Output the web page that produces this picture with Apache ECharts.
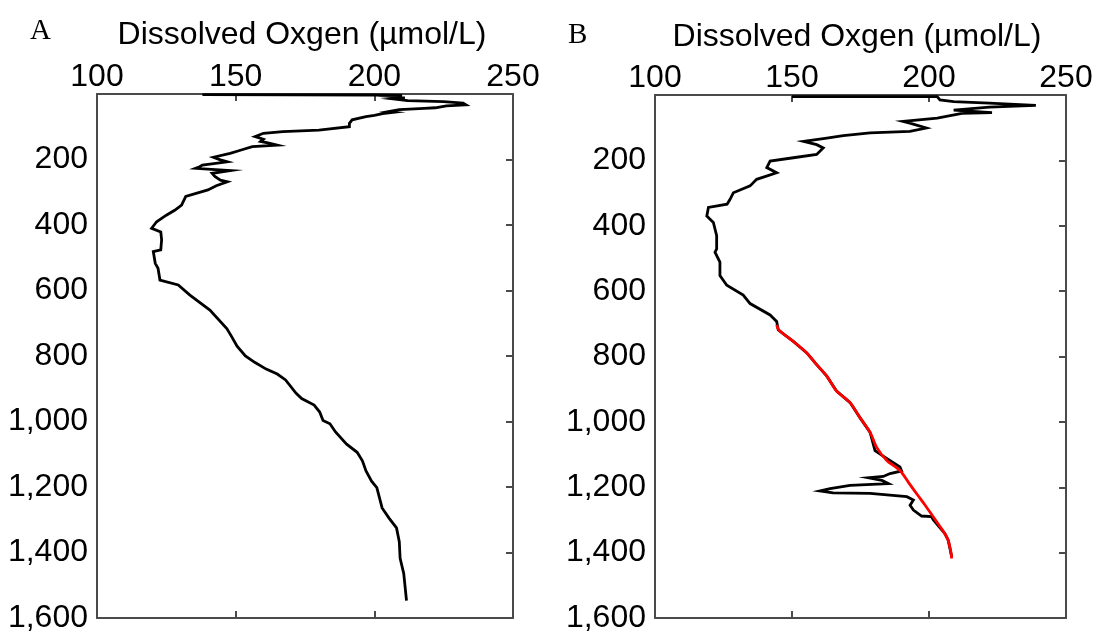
<!DOCTYPE html>
<html>
<head>
<meta charset="utf-8">
<script src="https://cdn.jsdelivr.net/npm/echarts@6/dist/echarts.min.js"></script>
<style>
  html, body { margin: 0; padding: 0; background: #fff; }
  #chart { width: 1096px; height: 634px; }
</style>
</head>
<body>
<div id="chart"></div>
<script>
// Dissolved oxygen profiles (µmol/L) against depth (m)
const xTicks = [100, 150, 200, 250];
const depthTicks = [0, 200, 400, 600, 800, 1000, 1200, 1400, 1600];

// Profile A
const depthA = [2,3,4,8,12,15,20,23,28,33,36,42,44,48,54,56,60,65,69,79,90,100,110,115,120,130,138,145,150,156,161,171,181,193,201,207,217,222,227,234,242,252,263,268,280,293,313,339,355,370,390,410,421,445,476,481,517,532,568,583,614,660,716,740,770,800,820,840,855,873,914,930,950,971,997,1007,1032,1069,1094,1120,1151,1182,1202,1264,1295,1325,1367,1418,1464,1547];
const oxyA = [138,200,210,206,211,207,212,225,232,233,226,222,218,209,205,207,203,200,197,192,191,191,180,167,160,157,160,159,162,165,156,152,148,142,144.5,147,138,137,135.5,148,141.5,142.5,144.5,147,143,140,132,130.5,128,125,121.5,119.7,123,123.3,123,120.3,121,122,122.7,129.3,133.5,140.7,146.8,148.5,150.5,153.5,157,161,165,168,171.8,173.8,178.3,180.3,181.5,184,186,190,193.8,195.7,197,199,200.9,202.8,205.3,208,209,209.3,210.6,211.6];

// Profile B
const depthB = [5,5,15,20,25,32,37,46,54,56,71,81,86,101,111,116,124,132,142,152,162,182,192,202,222,238,258,278,299,319,334,344,370,390,430,471,481,511,552,582,612,638,673,693,719,754,789,825,860,906,941,987,1032,1088,1103,1138,1150,1158,1167,1171,1179,1189,1194,1204,1211,1217,1219,1229,1239,1255,1270,1288,1290,1300,1342,1362,1413];
const oxyB = [150,203,204,209,222,239,222,209,223,212,203,190.6,193,199,193,178.5,168.7,162.7,154.2,159,161.4,159,150.5,142,140.8,144.4,137.1,134.7,128.6,127.4,126.3,119.5,118.9,121.3,122.5,122.5,121.9,123.7,123.7,126.2,132.2,134.7,142,144.4,145,150.5,155.4,159,162.7,166.3,171.2,174.8,178.5,180.3,183,189.4,190,185.8,183.3,177.9,182.8,185.2,171.2,163.9,160.2,165,178.5,191.9,194.3,193.1,194.3,197.3,200.9,201.6,205.8,207,208.3];

// Fitted curve for the lower part of profile B
const depthFit = [703,719,754,789,825,860,906,941,987,1032,1078,1118,1149,1185,1220,1255,1291,1320,1342,1362,1390,1418];
const oxyFit = [144.4,145.2,150.5,155.4,159,162.7,166.3,171.2,174.8,178.5,180.9,184.6,189.4,192.5,195.5,198.6,201.6,204,205.8,207,207.8,208.3];

const titleText = 'Dissolved Oxgen (µmol/L)';
const FONT = '"Liberation Sans", Arial, sans-serif';
const AXIS_COLOR = '#4a4a4a';

const pairs = (xs, ys) => xs.map((x, i) => [x, ys[i]]);
const thousands = v => String(v).replace(/\B(?=(\d{3})+(?!\d))/g, ',');

const grids = [
  { left: 97, top: 94, width: 416, height: 524 },
  { left: 655, top: 95, width: 411, height: 527 }
];

const xMin = xTicks[0], xMax = xTicks[xTicks.length - 1], xStep = xTicks[1] - xTicks[0];
const yMin = depthTicks[0], yMax = depthTicks[depthTicks.length - 1], yStep = depthTicks[1] - depthTicks[0];

const lineStyle = { color: AXIS_COLOR, width: 2 };

function xAxesFor(g) {
  return [
    {
      gridIndex: g, type: 'value', position: 'top', min: xMin, max: xMax, interval: xStep,
      axisLine: { show: true, onZero: false, lineStyle },
      axisTick: { show: true, inside: true, length: 7, lineStyle },
      axisLabel: { show: true, fontSize: 32, fontFamily: FONT, color: '#000', margin: 1 },
      splitLine: { show: false }
    },
    {
      gridIndex: g, type: 'value', position: 'bottom', min: xMin, max: xMax, interval: xStep,
      axisLine: { show: true, onZero: false, lineStyle },
      axisTick: { show: true, inside: true, length: 7, lineStyle },
      axisLabel: { show: false },
      splitLine: { show: false }
    }
  ];
}

function yAxesFor(g) {
  return [
    {
      gridIndex: g, type: 'value', position: 'left', inverse: true, min: yMin, max: yMax, interval: yStep,
      axisLine: { show: true, onZero: false, lineStyle },
      axisTick: { show: false },
      axisLabel: {
        show: true, fontSize: 32, fontFamily: FONT, color: '#000', margin: 9,
        formatter: v => (v === 0 ? '' : thousands(v))
      },
      splitLine: { show: false }
    },
    {
      gridIndex: g, type: 'value', position: 'right', inverse: true, min: yMin, max: yMax, interval: yStep,
      axisLine: { show: true, onZero: false, lineStyle },
      axisTick: { show: true, inside: true, length: 7, lineStyle },
      axisLabel: { show: false },
      splitLine: { show: false }
    }
  ];
}

function profile(data, xIdx, yIdx, color, z) {
  return {
    type: 'line', data, xAxisIndex: xIdx, yAxisIndex: yIdx,
    showSymbol: false, symbol: 'none', animation: false, z,
    lineStyle: { color, width: 2.8, join: 'miter' }
  };
}

const chart = echarts.init(document.getElementById('chart'), null, { renderer: 'canvas' });
chart.setOption({
  backgroundColor: '#fff',
  animation: false,
  grid: grids,
  xAxis: [...xAxesFor(0), ...xAxesFor(1)],
  yAxis: [...yAxesFor(0), ...yAxesFor(1)],
  series: [
    profile(pairs(oxyA, depthA), 0, 0, '#000', 2),
    profile(pairs(oxyB, depthB), 2, 2, '#000', 2),
    Object.assign(profile(pairs(oxyFit, depthFit), 2, 2, '#ff0000', 3), { smooth: 0.3 })
  ],
  graphic: [
    { type: 'text', left: 30, top: 17, style: { text: 'A', font: '29px "Liberation Serif", "Times New Roman", serif', fill: '#000' } },
    { type: 'text', left: 568, top: 21, style: { text: 'B', font: '29px "Liberation Serif", "Times New Roman", serif', fill: '#000' } },
    { type: 'text', x: 302, y: 35, style: { text: titleText, font: '32px ' + FONT, fill: '#000', align: 'center', verticalAlign: 'middle' } },
    { type: 'text', x: 857, y: 37, style: { text: titleText, font: '32px ' + FONT, fill: '#000', align: 'center', verticalAlign: 'middle' } }
  ]
});
</script>
</body>
</html>
